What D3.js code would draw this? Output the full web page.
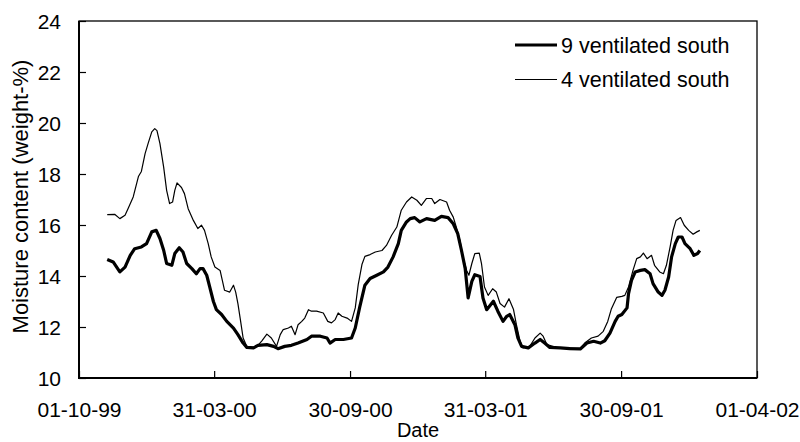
<!DOCTYPE html>
<html>
<head>
<meta charset="utf-8">
<script src="https://cdn.jsdelivr.net/npm/d3@7"></script>
<style>
  body { margin: 0; background: #fff; }
  svg { display: block; }
  text { font-family: Arial, "Liberation Sans", sans-serif; fill: #000; }
</style>
</head>
<body>
<svg id="chart" width="800" height="442"></svg>
<script>
// Moisture content, weight-%, of two south-facing ventilated walls
const seriesNames = ["9 ventilated south", "4 ventilated south"];

const ventilated9 = [
  ["1999-11-08",14.65],["1999-11-16",14.55],["1999-11-25",14.16],["1999-12-02",14.35],
  ["1999-12-09",14.81],["1999-12-15",15.07],["1999-12-24",15.14],["1999-12-31",15.27],
  ["2000-01-07",15.73],["2000-01-13",15.79],["2000-01-18",15.47],["2000-01-23",15.01],
  ["2000-01-27",14.49],["2000-02-03",14.42],["2000-02-07",14.88],["2000-02-13",15.11],
  ["2000-02-18",14.94],["2000-02-23",14.49],["2000-03-01",14.29],["2000-03-07",14.09],
  ["2000-03-12",14.29],["2000-03-16",14.29],["2000-03-21",14.03],["2000-03-25",13.57],
  ["2000-03-30",13.00],["2000-04-03",12.68],["2000-04-10",12.49],["2000-04-17",12.22],
  ["2000-04-26",11.96],["2000-05-02",11.70],["2000-05-09",11.37],["2000-05-14",11.20],
  ["2000-05-23",11.18],["2000-05-29",11.28],["2000-06-10",11.31],["2000-06-19",11.24],
  ["2000-06-25",11.15],["2000-07-04",11.24],["2000-07-13",11.28],["2000-07-22",11.37],
  ["2000-08-03",11.51],["2000-08-09",11.64],["2000-08-21",11.64],["2000-08-30",11.57],
  ["2000-09-03",11.37],["2000-09-10",11.51],["2000-09-21",11.51],["2000-10-02",11.57],
  ["2000-10-07",11.96],["2000-10-13",12.78],["2000-10-20",13.64],["2000-10-27",13.90],
  ["2000-11-05",14.03],["2000-11-14",14.16],["2000-11-20",14.35],["2000-11-27",14.75],
  ["2000-12-04",15.27],["2000-12-08",15.79],["2000-12-15",16.12],["2000-12-20",16.25],
  ["2000-12-26",16.29],["2001-01-02",16.12],["2001-01-11",16.25],["2001-01-22",16.18],
  ["2001-01-31",16.34],["2001-02-09",16.29],["2001-02-16",16.05],["2001-02-22",15.66],
  ["2001-02-27",15.01],["2001-03-04",14.30],["2001-03-08",13.14],["2001-03-13",13.79],
  ["2001-03-17",14.05],["2001-03-24",13.98],["2001-03-28",13.14],["2001-04-02",12.68],
  ["2001-04-11",13.01],["2001-04-17",12.62],["2001-04-24",12.22],["2001-04-29",12.42],
  ["2001-05-03",12.49],["2001-05-10",12.09],["2001-05-14",11.57],["2001-05-19",11.24],
  ["2001-05-28",11.18],["2001-06-06",11.37],["2001-06-13",11.51],["2001-06-19",11.37],
  ["2001-06-26",11.20],["2001-07-10",11.18],["2001-07-23",11.15],["2001-08-06",11.14],
  ["2001-08-15",11.37],["2001-08-24",11.44],["2001-09-02",11.37],["2001-09-08",11.46],
  ["2001-09-15",11.76],["2001-09-22",12.22],["2001-09-26",12.42],["2001-10-01",12.49],
  ["2001-10-08",12.75],["2001-10-10",13.31],["2001-10-14",13.83],["2001-10-19",14.16],
  ["2001-10-26",14.22],["2001-11-01",14.25],["2001-11-08",14.09],["2001-11-12",13.70],
  ["2001-11-19",13.37],["2001-11-24",13.24],["2001-11-28",13.44],["2001-12-03",13.96],
  ["2001-12-07",14.75],["2001-12-12",15.27],["2001-12-16",15.53],["2001-12-21",15.53],
  ["2001-12-25",15.27],["2002-01-01",15.07],["2002-01-06",14.81],["2002-01-11",14.88],
  ["2002-01-14",15.00]
];

const ventilated4 = [
  ["1999-11-08",16.41],["1999-11-18",16.42],["1999-11-25",16.25],["1999-12-02",16.38],
  ["1999-12-06",16.64],["1999-12-13",17.10],["1999-12-20",17.90],["1999-12-24",18.10],
  ["1999-12-29",18.80],["2000-01-02",19.19],["2000-01-07",19.65],["2000-01-11",19.78],
  ["2000-01-14",19.70],["2000-01-18",19.19],["2000-01-23",18.27],["2000-01-27",17.36],
  ["2000-01-31",16.84],["2000-02-04",16.90],["2000-02-07",17.36],["2000-02-10",17.65],
  ["2000-02-16",17.47],["2000-02-20",17.23],["2000-02-25",16.64],["2000-03-03",16.18],
  ["2000-03-09",15.86],["2000-03-14",15.99],["2000-03-18",15.79],["2000-03-23",15.27],
  ["2000-03-27",14.75],["2000-04-01",14.35],["2000-04-08",14.22],["2000-04-11",13.83],
  ["2000-04-14",13.44],["2000-04-21",13.37],["2000-04-26",13.64],["2000-04-29",13.37],
  ["2000-05-02",12.92],["2000-05-05",12.35],["2000-05-09",11.57],["2000-05-14",11.24],
  ["2000-05-23",11.20],["2000-05-28",11.25],["2000-06-03",11.45],["2000-06-10",11.72],
  ["2000-06-16",11.57],["2000-06-23",11.24],["2000-06-28",11.70],["2000-07-02",11.90],
  ["2000-07-09",11.96],["2000-07-13",12.03],["2000-07-18",11.70],["2000-07-22",12.09],
  ["2000-07-27",12.22],["2000-07-31",12.35],["2000-08-05",12.68],["2000-08-09",12.62],
  ["2000-08-16",12.62],["2000-08-25",12.55],["2000-08-31",12.22],["2000-09-05",12.16],
  ["2000-09-10",12.29],["2000-09-14",12.55],["2000-09-19",12.42],["2000-09-26",12.35],
  ["2000-10-02",12.22],["2000-10-07",12.75],["2000-10-11",13.66],["2000-10-16",14.45],
  ["2000-10-20",14.77],["2000-10-27",14.84],["2000-11-03",14.94],["2000-11-12",15.00],
  ["2000-11-18",15.20],["2000-11-25",15.60],["2000-12-02",15.92],["2000-12-08",16.58],
  ["2000-12-15",16.90],["2000-12-22",17.10],["2000-12-29",16.97],["2001-01-04",16.77],
  ["2001-01-11",17.04],["2001-01-18",17.04],["2001-01-22",16.84],["2001-01-29",17.00],
  ["2001-02-07",16.90],["2001-02-11",16.58],["2001-02-16",16.31],["2001-02-20",15.92],
  ["2001-02-25",15.40],["2001-03-01",14.75],["2001-03-06",14.22],["2001-03-09",14.03],
  ["2001-03-13",14.49],["2001-03-17",14.88],["2001-03-23",14.90],["2001-03-26",14.49],
  ["2001-03-30",13.57],["2001-04-04",13.24],["2001-04-10",13.50],["2001-04-15",13.37],
  ["2001-04-20",12.92],["2001-04-26",12.78],["2001-05-02",13.11],["2001-05-08",12.70],
  ["2001-05-12",12.09],["2001-05-17",11.44],["2001-05-21",11.18],["2001-05-30",11.24],
  ["2001-06-06",11.57],["2001-06-13",11.76],["2001-06-17",11.64],["2001-06-22",11.31],
  ["2001-07-05",11.20],["2001-07-23",11.18],["2001-08-06",11.15],["2001-08-12",11.37],
  ["2001-08-21",11.57],["2001-08-30",11.64],["2001-09-06",11.83],["2001-09-12",12.22],
  ["2001-09-17",12.72],["2001-09-24",13.16],["2001-10-01",13.20],["2001-10-05",13.24],
  ["2001-10-10",13.57],["2001-10-16",14.22],["2001-10-21",14.68],["2001-10-26",14.75],
  ["2001-10-30",14.90],["2001-11-04",14.68],["2001-11-10",14.81],["2001-11-14",14.42],
  ["2001-11-21",14.16],["2001-11-26",14.09],["2001-11-30",14.42],["2001-12-05",15.14],
  ["2001-12-09",15.79],["2001-12-13",16.18],["2001-12-19",16.29],["2001-12-24",15.99],
  ["2001-12-30",15.79],["2002-01-05",15.64],["2002-01-10",15.73],["2002-01-14",15.79]
];

const xTickDates = ["1999-10-01","2000-03-31","2000-09-30","2001-03-31","2001-09-30","2002-04-01"];
const yTickValues = [10, 12, 14, 16, 18, 20, 22, 24];

const parse = d3.timeParse("%Y-%m-%d");
const fmt = d3.timeFormat("%d-%m-%y");

const plot = { left: 79, top: 21, right: 757, bottom: 378 };

const x = d3.scaleTime()
  .domain([parse(xTickDates[0]), parse(xTickDates[xTickDates.length - 1])])
  .range([plot.left, plot.right]);
const y = d3.scaleLinear()
  .domain([yTickValues[0], yTickValues[yTickValues.length - 1]])
  .range([plot.bottom, plot.top]);

const svg = d3.select("#chart");

// axes with inward ticks
const xAxis = svg.append("g")
  .attr("transform", `translate(0,${plot.bottom})`)
  .call(d3.axisBottom(x)
    .tickValues(xTickDates.map(parse))
    .tickFormat(fmt)
    .tickSizeInner(-7)
    .tickSizeOuter(0));
xAxis.select(".domain").remove();
xAxis.selectAll(".tick line").attr("stroke", "#000").attr("stroke-width", 1.2);
xAxis.selectAll(".tick text")
  .attr("y", 38.5).attr("dy", null)
  .style("font-size", "21px");

const yAxis = svg.append("g")
  .attr("transform", `translate(${plot.left},0)`)
  .call(d3.axisLeft(y)
    .tickValues(yTickValues)
    .tickSizeInner(-7)
    .tickSizeOuter(0));
yAxis.select(".domain").remove();
yAxis.selectAll(".tick line").attr("stroke", "#000").attr("stroke-width", 1.2);
yAxis.selectAll(".tick text")
  .attr("x", -18).attr("dy", "0.35em")
  .style("font-size", "21px");

// plot frame
svg.append("rect")
  .attr("x", plot.left).attr("y", plot.top)
  .attr("width", plot.right - plot.left).attr("height", plot.bottom - plot.top)
  .attr("fill", "none").attr("stroke", "#000").attr("stroke-width", 1.3);
svg.append("path")
  .attr("d", `M${plot.left},${plot.top}V${plot.bottom}H${plot.right}`)
  .attr("fill", "none").attr("stroke", "#000").attr("stroke-width", 2);

// series lines
const line = d3.line()
  .x(d => x(parse(d[0])))
  .y(d => y(d[1]));

const series = [
  { name: seriesNames[0], data: ventilated9, width: 3.2 },
  { name: seriesNames[1], data: ventilated4, width: 1.2 }
];

svg.append("g").selectAll("path")
  .data(series.slice().reverse())
  .join("path")
  .attr("d", s => line(s.data))
  .attr("fill", "none")
  .attr("stroke", "#000")
  .attr("stroke-width", s => s.width)
  .attr("stroke-linejoin", "round");

// legend
const legend = svg.append("g");
series.forEach((s, i) => {
  const ly = 45 + i * 34.5;
  legend.append("line")
    .attr("x1", 515).attr("x2", 557)
    .attr("y1", ly).attr("y2", ly)
    .attr("stroke", "#000").attr("stroke-width", s.width);
  legend.append("text")
    .attr("x", 561).attr("y", ly).attr("dy", "0.36em")
    .style("font-size", "21.5px")
    .text(s.name);
});

// axis titles
svg.append("text")
  .attr("x", (plot.left + plot.right) / 2).attr("y", 437)
  .attr("text-anchor", "middle")
  .style("font-size", "20px")
  .text("Date");

svg.append("text")
  .attr("transform", `translate(28,${(plot.top + plot.bottom) / 2 - 3}) rotate(-90)`)
  .attr("text-anchor", "middle")
  .style("font-size", "22px")
  .text("Moisture content (weight-%)");
</script>
</body>
</html>
